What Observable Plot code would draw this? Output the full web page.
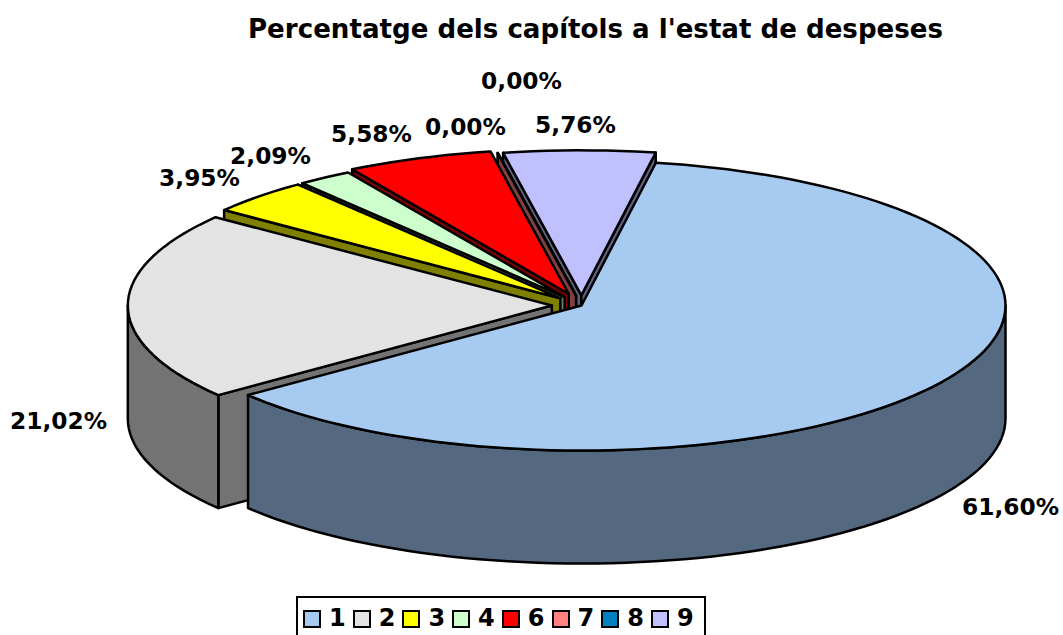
<!DOCTYPE html>
<html lang="ca">
<head>
<meta charset="utf-8">
<script src="https://cdn.jsdelivr.net/npm/d3@7"></script>
<script src="https://cdn.jsdelivr.net/npm/@observablehq/plot@0.6"></script>
<style>
  html, body { margin: 0; padding: 0; background: #fff; width: 1063px; height: 635px; overflow: hidden; }
  body { font-family: "DejaVu Sans", sans-serif; color: #000; }
  #title { height: 50px; padding-left: 248px; font: bold 26.1px/58px "DejaVu Sans", sans-serif; white-space: nowrap; }
  #chart svg { display: block; }
  #legend { position: absolute; left: 296px; top: 596px; width: 406px; height: 60px; border: 2.5px solid #000; box-sizing: content-box; }
  .item { position: absolute; top: 10px; font: bold 24px/24px "DejaVu Sans", sans-serif; }
  .swatch { position: absolute; left: 0; top: 2px; width: 14px; height: 14px; border: 2px solid #000; }
  .name { position: absolute; left: 26px; top: -2px; }
</style>
</head>
<body>
<div id="title">Percentatge dels capítols a l'estat de despeses</div>
<div id="chart"></div>
<div id="legend"></div>
<script>
// Data
const categories = ["1", "2", "3", "4", "6", "7", "8", "9"];
const percents   = [61.60, 21.02, 3.95, 2.09, 5.58, 0, 0, 5.76];
const topColors  = ["#a6caf0", "#e3e3e3", "#ffff00", "#ccffcc", "#ff0000", "#ff8080", "#0080c0", "#c0c0ff"];
const sideColors = ["#546880", "#737373", "#808000", "#668066", "#800000", "#804040", "#004060", "#606080"];
const exploded   = [0, 0.07, 0.07, 0.07, 0.085, 0.07, 0.07, 0.07];

// Label placement (centre of each text, in picture space)
const labelX = [1010, 58, 199, 270, 371, 465, 521, 575];
const labelY = [507, 421, 178, 156, 134, 127, 81, 125];

// Pie layout
const cx = 581, cy = 305, rx = 424, ry = 145, depth = 113, firstAngle = 10.1;
const rad = Math.PI / 180;
const onEllipse = (deg, k, c) => [c[0] + k * rx * Math.sin(deg * rad), c[1] - k * ry * Math.cos(deg * rad)];

let cursor = firstAngle;
const slices = percents.map((p, i) => {
  const start = cursor, end = cursor + p * 3.6;
  cursor = end;
  const apex = onEllipse((start + end) / 2, exploded[i], [cx, cy]);
  const arc = d3.range(start, end, 2).concat([end]).map(a => onEllipse(a, 1, apex));
  // the part of the rim that faces the viewer: 90 to 270 degrees
  const lo = Math.max(start, 90), hi = Math.min(end, 270);
  const frontArc = lo < hi ? d3.range(lo, hi, 2).concat([hi]).map(a => onEllipse(a, 1, apex)) : [];
  return {i, start, end, apex, arc, frontArc};
});

const rows = [];
const addFace = (id, color, points) => points.forEach(([x, y]) => rows.push({id, color, x, y}));
const drop = pts => pts.map(([x, y]) => [x, y + depth]);

// painter's order: from the last slice back to the first; only cut faces turned to the viewer
slices.slice().reverse().forEach(({i, start, end, apex, arc, frontArc}) => {
  const first = arc[0], last = arc[arc.length - 1];
  if (Math.sin(start * rad) < 0) addFace(`cutA${i}`, sideColors[i], [apex, first, ...drop([first, apex])]);
  if (Math.sin(end * rad) > 0) addFace(`cutB${i}`, sideColors[i], [apex, last, ...drop([last, apex])]);
  if (frontArc.length) addFace(`wall${i}`, sideColors[i], [...frontArc, ...drop(frontArc).reverse()]);
  addFace(`top${i}`, topColors[i], [apex, ...arc]);
});

const labels = percents.map((p, i) => ({
  text: p.toFixed(2).replace(".", ",") + "%",
  x: labelX[i], y: labelY[i]
}));

const plot = Plot.plot({
  width: 1063, height: 540,
  margin: 0,
  x: {domain: [0, 1063], range: [0, 1063], axis: null},
  y: {domain: [50, 590], range: [0, 540], axis: null},
  marks: [
    Plot.line(rows, {x: "x", y: "y", z: "id", fill: d => d.color, stroke: "#000", strokeWidth: 2.5,
                     curve: "linear-closed", strokeLinejoin: "round"}),
    Plot.text(labels, {x: "x", y: "y", text: "text", fontSize: 23.3, fontWeight: "bold",
                       fontFamily: "DejaVu Sans", fill: "#000"})
  ]
});
document.getElementById("chart").append(plot);

const legend = document.getElementById("legend");
categories.forEach((c, i) => {
  const item = document.createElement("div");
  item.className = "item";
  item.style.left = (5 + i * 49.7) + "px";
  item.innerHTML = `<span class="swatch" style="background:${topColors[i]}"></span><span class="name">${c}</span>`;
  legend.append(item);
});
</script>
</body>
</html>
